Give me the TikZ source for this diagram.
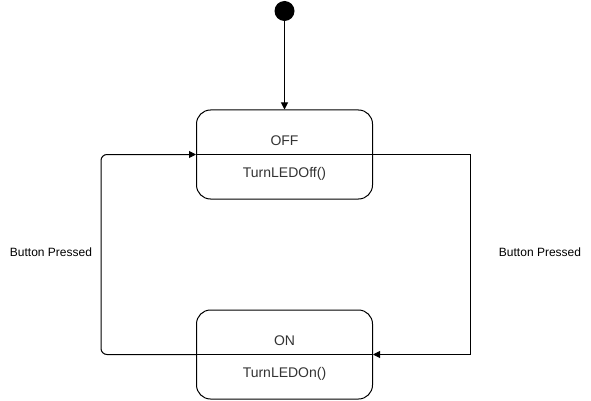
\documentclass[tikz,border=0pt]{standalone}
\usepackage{fontspec}
\setmainfont{Liberation Sans}
\usetikzlibrary{arrows.meta}
\begin{document}
\begin{tikzpicture}[x=1pt,y=-1pt,
  line width=1pt,
  statebox/.style={draw, rounded corners=14pt, minimum width=176pt, minimum height=89pt, inner sep=0pt},
  statetext/.style={font=\fontsize{14pt}{16pt}\selectfont, anchor=base, inner sep=0pt, text=black!80},
  lbl/.style={font=\fontsize{12pt}{14pt}\selectfont, anchor=base, inner sep=0pt},
  arr/.style={-{Triangle[length=7pt,width=7pt]}}]
\useasboundingbox (0,0) rectangle (591,401);
\fill[white] (0,0) rectangle (591,401);
% initial state
\node[circle, fill=black, minimum size=20pt, inner sep=0pt] (init) at (284.5,11) {};
% states
\node[statebox] (off) at (284.5,154.5) {};
\node[statebox] (on) at (284.5,354.5) {};
\draw (off.west) -- (off.east);
\draw (on.west) -- (on.east);
\node[statetext] (offname) at (284.5,145) {OFF};
\node[statetext] (offact) at (284.5,177) {TurnLEDOff()};
\node[statetext] (onname) at (284.5,345) {ON};
\node[statetext] (onact) at (284.5,377.5) {TurnLEDOn()};
% connectors
\draw[arr] (init) -- (off.north);
\coordinate (l1) at (101,354.5);
\coordinate (l2) at (101,154.5);
\draw[arr, rounded corners=6pt] (on.west) -- (l1) -- (l2) -- (off.west);
\coordinate (r1) at (470,154.5);
\coordinate (r2) at (470,354.5);
\draw[arr] (off.east) -- (r1) -- (r2) -- (on.east);
% labels
\node[lbl] (lblleft) at (51,256) {Button Pressed};
\node[lbl] (lblright) at (540,256) {Button Pressed};
\end{tikzpicture}
\end{document}
